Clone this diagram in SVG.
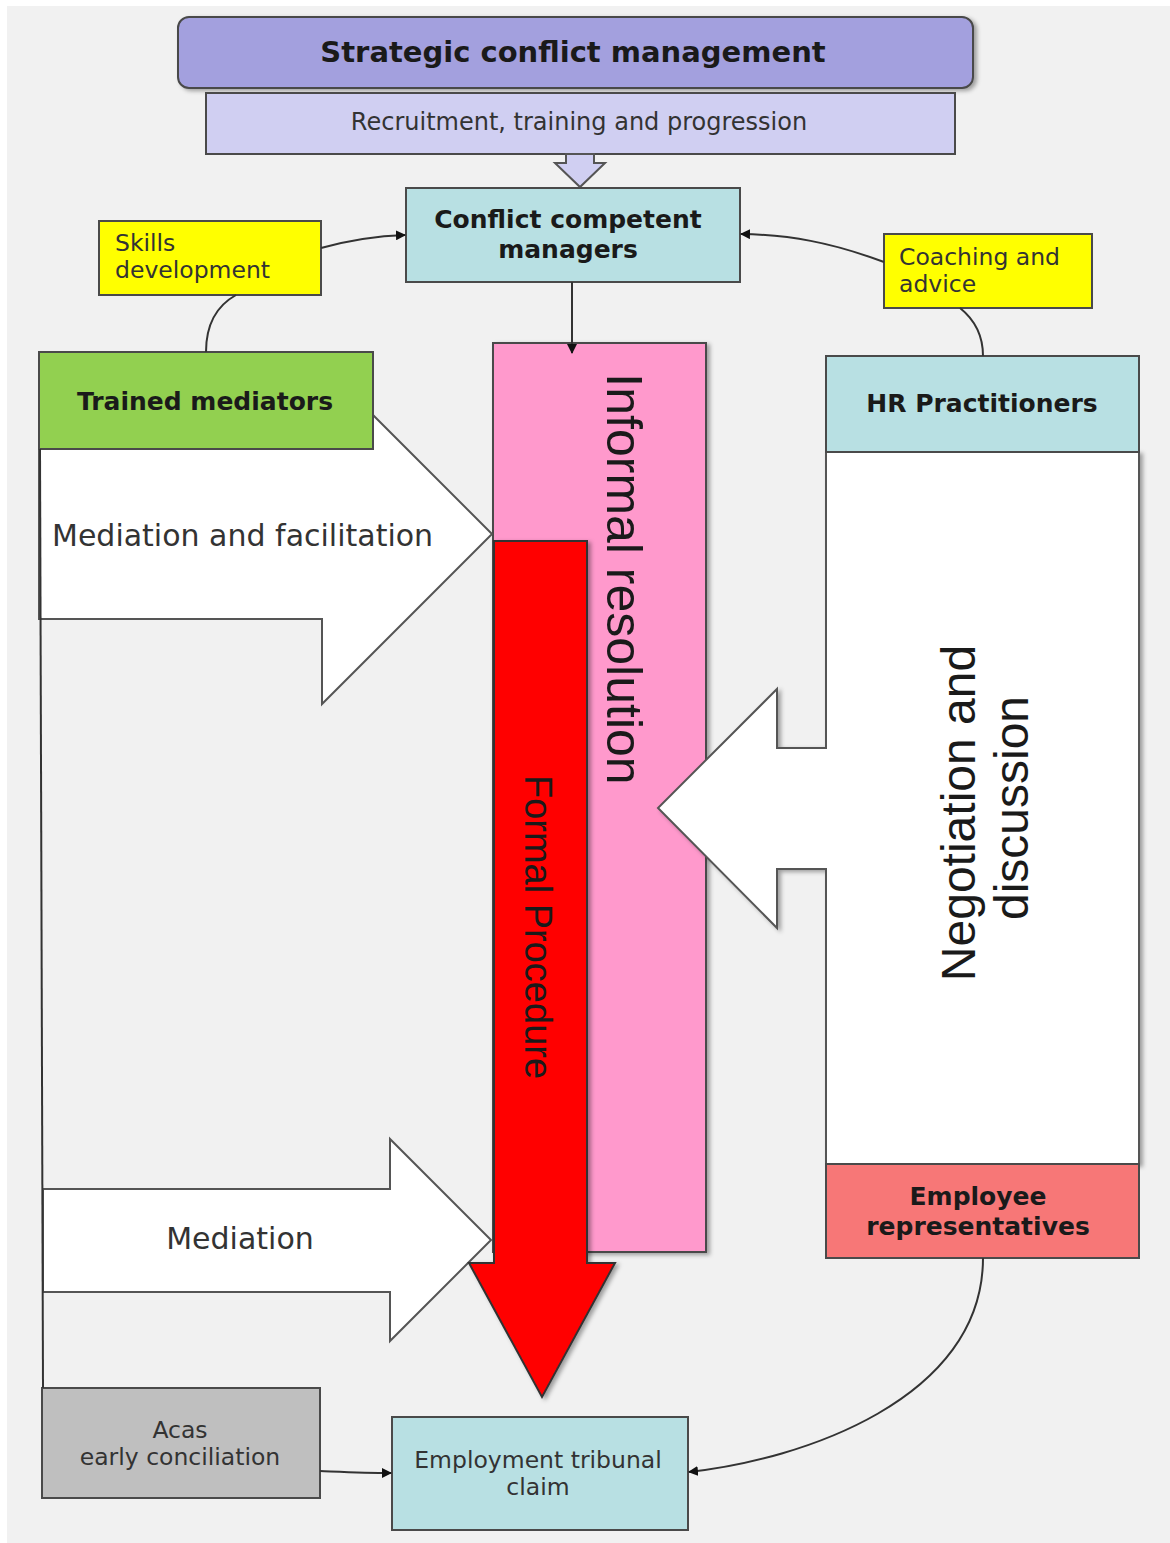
<svg xmlns="http://www.w3.org/2000/svg" width="1170" height="1543" viewBox="0 0 1170 1543">
<style>
.box{stroke:#4a4a4a;stroke-width:2}
.lbl{font-family:"DejaVu Sans",Verdana,sans-serif;font-size:23.5px;fill:#333}
.bold{font-family:"DejaVu Sans",Verdana,sans-serif;font-size:25px;font-weight:bold;fill:#1a1a1a}
.big{font-family:"Liberation Sans",Arial,sans-serif;fill:#1a1a1a}
.conn{fill:none;stroke:#333;stroke-width:2}
.block{fill:#ffffff;stroke:#555;stroke-width:2;stroke-linejoin:miter}
</style>
<defs>
<marker id="ah" markerWidth="10" markerHeight="10" refX="9" refY="5" orient="auto" markerUnits="userSpaceOnUse">
<path d="M0,0 L10,5 L0,10 Z" fill="#111"/>
</marker>
<filter id="sh" x="-5%" y="-5%" width="115%" height="115%">
<feDropShadow dx="3" dy="2" stdDeviation="2" flood-color="#000" flood-opacity="0.35"/>
</filter>
</defs>
<rect x="0" y="0" width="1170" height="1543" fill="#ffffff"/>
<rect x="7" y="6" width="1163" height="1537" fill="#f1f1f1"/>

<g id="strategic">
<rect class="box" x="178" y="17" width="795" height="71" rx="11" fill="#a3a0de" filter="url(#sh)"/>
<text class="bold" x="573" y="62" text-anchor="middle" style="font-size:29px">Strategic conflict management</text>
</g>
<g id="recruitment">
<rect class="box" x="206" y="93" width="749" height="61" fill="#d0cff2"/>
<text class="lbl" x="579" y="130" text-anchor="middle" style="font-size:24px">Recruitment, training and progression</text>
</g>
<g id="recruit-arrow">
<polygon points="566,154 594,154 594,163 605,163 580,187 555,163 566,163" fill="#d0cff2" stroke="#555" stroke-width="2"/>
</g>

<g id="informal">
<rect class="box" x="493" y="343" width="213" height="909" fill="#ff99cc" filter="url(#sh)"/>
<text class="big" transform="translate(607,579) rotate(90)" text-anchor="middle" font-size="50">Informal resolution</text>
</g>

<g id="mediation-facilitation">
<polygon class="block" points="39,449 322,449 322,364 492,534 322,704 322,619 39,619"/>
<text class="lbl" x="52" y="546" style="font-size:30px">Mediation and facilitation</text>
</g>

<g id="mediation">
<polygon class="block" points="43,1189 390,1189 390,1139 491,1240 390,1341 390,1292 43,1292"/>
<text class="lbl" x="240" y="1249" text-anchor="middle" style="font-size:30px">Mediation</text>
</g>

<g id="formal">
<polygon points="494,541 587,541 587,1263 615,1263 542,1397 469,1263 494,1263" fill="#ff0000" stroke="#333" stroke-width="2" filter="url(#sh)"/>
<text class="big" transform="translate(525,927) rotate(90)" text-anchor="middle" font-size="38">Formal Procedure</text>
</g>

<g id="negotiation">
<polygon class="block" points="826,452 1139,452 1139,1164 826,1164 826,869 777,869 777,928 658,808 777,689 777,748 826,748" filter="url(#sh)"/>
<text class="big" transform="translate(975,813) rotate(-90)" text-anchor="middle" font-size="48">Negotiation and</text>
<text class="big" transform="translate(1028,808) rotate(-90)" text-anchor="middle" font-size="48">discussion</text>
</g>

<g id="conflict-managers">
<rect class="box" x="406" y="188" width="334" height="94" fill="#b8e0e3"/>
<text class="bold" x="568" y="228" text-anchor="middle">Conflict competent</text>
<text class="bold" x="568" y="258" text-anchor="middle">managers</text>
</g>
<g id="skills">
<rect class="box" x="99" y="221" width="222" height="74" fill="#ffff00"/>
<text class="lbl" x="115" y="251">Skills</text>
<text class="lbl" x="115" y="278">development</text>
</g>
<g id="coaching">
<rect class="box" x="884" y="234" width="208" height="74" fill="#ffff00"/>
<text class="lbl" x="899" y="265">Coaching and</text>
<text class="lbl" x="899" y="292">advice</text>
</g>
<g id="trained-mediators">
<rect class="box" x="39" y="352" width="334" height="97" fill="#92d050"/>
<text class="bold" x="205" y="410" text-anchor="middle">Trained mediators</text>
</g>
<g id="hr">
<rect class="box" x="826" y="356" width="313" height="96" fill="#b8e0e3"/>
<text class="bold" x="982" y="412" text-anchor="middle">HR Practitioners</text>
</g>
<g id="employee-reps">
<rect class="box" x="826" y="1164" width="313" height="94" fill="#f77777"/>
<text class="bold" x="978" y="1205" text-anchor="middle">Employee</text>
<text class="bold" x="978" y="1235" text-anchor="middle">representatives</text>
</g>
<g id="acas">
<rect class="box" x="42" y="1388" width="278" height="110" fill="#bfbfbf"/>
<text class="lbl" x="180" y="1438" text-anchor="middle">Acas</text>
<text class="lbl" x="180" y="1465" text-anchor="middle">early conciliation</text>
</g>
<g id="tribunal">
<rect class="box" x="392" y="1417" width="296" height="113" fill="#b8e0e3"/>
<text class="lbl" x="538" y="1468" text-anchor="middle">Employment tribunal</text>
<text class="lbl" x="538" y="1495" text-anchor="middle">claim</text>
</g>

<g id="connectors">
<path class="conn" d="M321,248 C350,240 375,236 405,235" marker-end="url(#ah)"/>
<path class="conn" d="M206,352 C206,322 218,305 236,295"/>
<path class="conn" d="M884,262 C830,242 790,235 741,234" marker-end="url(#ah)"/>
<path class="conn" d="M983,356 C983,335 975,320 960,308"/>
<path class="conn" d="M572,282 L572,353" marker-end="url(#ah)"/>
<path class="conn" d="M40,449 L43,1388"/>
<path class="conn" d="M320,1471 C345,1472 365,1473 391,1473" marker-end="url(#ah)"/>
<path class="conn" d="M983,1258 C983,1400 800,1460 689,1472" marker-end="url(#ah)"/>
</g>
</svg>
